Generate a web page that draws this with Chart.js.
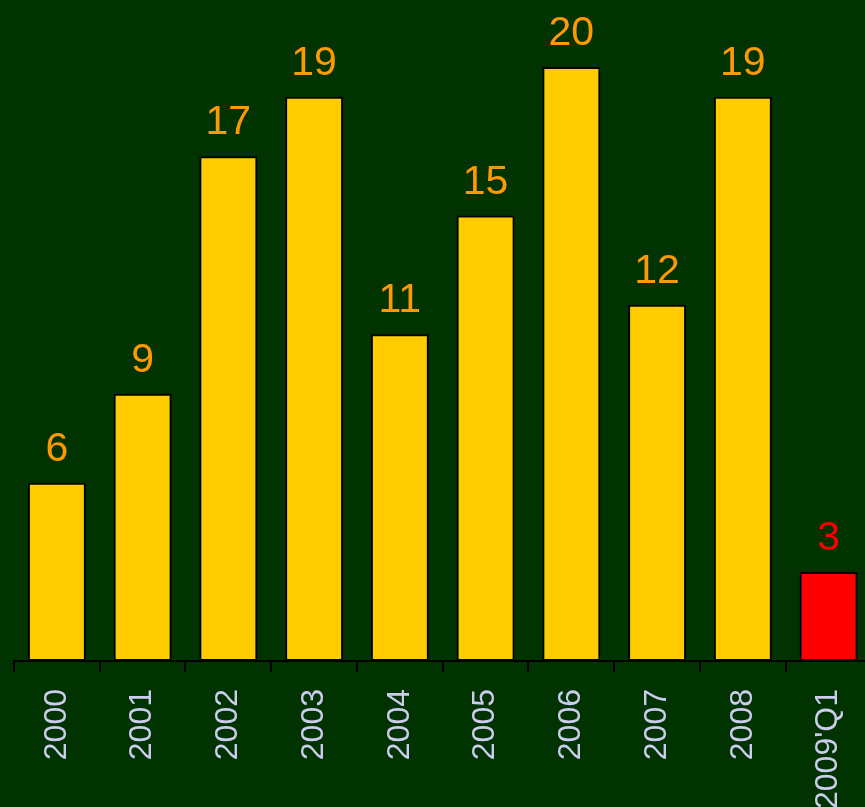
<!DOCTYPE html>
<html>
<head>
<meta charset="utf-8">
<script src="https://cdn.jsdelivr.net/npm/chart.js@4/dist/chart.umd.min.js"></script>
<style>
  html, body { margin: 0; padding: 0; background: #003300; overflow: hidden; }
  #wrap { width: 884px; height: 807px; position: relative; }
</style>
</head>
<body>
<div id="wrap"><canvas id="c"></canvas></div>
<script>
const categories = ["2000", "2001", "2002", "2003", "2004", "2005", "2006", "2007", "2008", "2009'Q1"];
const values = [6, 9, 17, 19, 11, 15, 20, 12, 19, 3];
const barColors = ["#FFCC00", "#FFCC00", "#FFCC00", "#FFCC00", "#FFCC00", "#FFCC00", "#FFCC00", "#FFCC00", "#FFCC00", "#FF0000"];
const labelColors = ["#FF9900", "#FF9900", "#FF9900", "#FF9900", "#FF9900", "#FF9900", "#FF9900", "#FF9900", "#FF9900", "#FF0000"];

const bgPlugin = {
  id: 'bg',
  beforeDraw(chart) {
    const ctx = chart.ctx;
    ctx.save();
    ctx.fillStyle = '#003300';
    ctx.fillRect(0, 0, chart.width, chart.height);
    ctx.restore();
  }
};

const valueLabels = {
  id: 'valueLabels',
  afterDatasetsDraw(chart) {
    const ctx = chart.ctx;
    const meta = chart.getDatasetMeta(0);
    ctx.save();
    ctx.font = '41px "Liberation Sans", Arial, sans-serif';
    ctx.textAlign = 'center';
    ctx.textBaseline = 'alphabetic';
    meta.data.forEach((bar, i) => {
      ctx.fillStyle = labelColors[i];
      ctx.fillText(String(values[i]), bar.x, bar.y - 22);
    });
    ctx.restore();
  }
};

new Chart(document.getElementById('c'), {
  type: 'bar',
  data: {
    labels: categories,
    datasets: [{
      data: values,
      backgroundColor: barColors,
      borderColor: '#000000',
      borderWidth: 2,
      borderSkipped: false,
      barPercentage: 0.676,
      categoryPercentage: 1.0
    }]
  },
  options: {
    responsive: true,
    maintainAspectRatio: false,
    animation: false,
    layout: { padding: { left: 14, right: 0, top: 0, bottom: 0 } },
    plugins: {
      legend: { display: false },
      tooltip: { enabled: false }
    },
    scales: {
      x: {
        offset: true,
        grid: {
          display: true,
          drawOnChartArea: false,
          drawTicks: true,
          tickLength: 11,
          color: '#000000',
          lineWidth: 2,
          offset: true
        },
        border: { display: true, color: '#000000', width: 2 },
        ticks: {
          autoSkip: false,
          minRotation: 90,
          maxRotation: 90,
          padding: 17,
          color: '#CCCCEE',
          font: { family: '"Liberation Sans", Arial, sans-serif', size: 32 }
        },
        afterFit(scale) { scale.height = 146; }
      },
      y: {
        display: false,
        min: 0,
        max: 22.26
      }
    }
  },
  plugins: [bgPlugin, valueLabels]
});
</script>
</body>
</html>
